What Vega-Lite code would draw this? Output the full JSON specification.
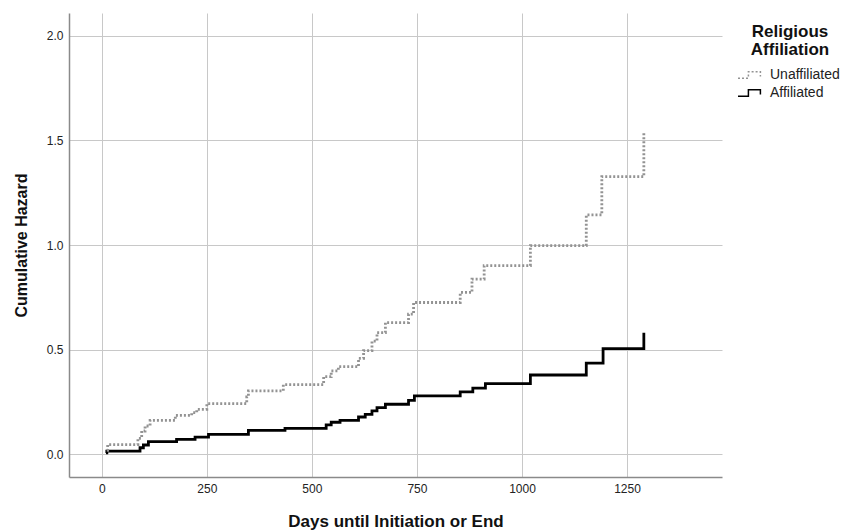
{
  "$schema": "https://vega.github.io/schema/vega-lite/v6.json",
  "width": 653,
  "height": 464,
  "autosize": {"type": "none"},
  "padding": {"left": 69, "top": 13, "right": 121, "bottom": 55},
  "background": "white",
  "config": {
    "font": "Liberation Sans",
    "view": {"stroke": null},
    "axis": {
      "gridColor": "#c8c8c8",
      "gridWidth": 1,
      "domainColor": "#8a8a8a",
      "domainWidth": 1.5,
      "ticks": false,
      "tickSize": 0,
      "labelFont": "Liberation Sans",
      "labelFontSize": 12,
      "labelColor": "#222222",
      "labelPadding": 6,
      "titleFont": "Liberation Sans",
      "titleFontWeight": "bold",
      "titleColor": "#111111",
      "titlePadding": 17
    }
  },
  "data": {
    "values": [
      {"group": "Affiliated", "day": 10, "hazard": 0.005},
      {"group": "Affiliated", "day": 12, "hazard": 0.014},
      {"group": "Affiliated", "day": 91, "hazard": 0.03},
      {"group": "Affiliated", "day": 99, "hazard": 0.043},
      {"group": "Affiliated", "day": 111, "hazard": 0.059},
      {"group": "Affiliated", "day": 178, "hazard": 0.07},
      {"group": "Affiliated", "day": 222, "hazard": 0.081},
      {"group": "Affiliated", "day": 254, "hazard": 0.094},
      {"group": "Affiliated", "day": 349, "hazard": 0.113},
      {"group": "Affiliated", "day": 436, "hazard": 0.123},
      {"group": "Affiliated", "day": 534, "hazard": 0.139},
      {"group": "Affiliated", "day": 546, "hazard": 0.152},
      {"group": "Affiliated", "day": 567, "hazard": 0.161},
      {"group": "Affiliated", "day": 611, "hazard": 0.177},
      {"group": "Affiliated", "day": 627, "hazard": 0.19},
      {"group": "Affiliated", "day": 643, "hazard": 0.206},
      {"group": "Affiliated", "day": 655, "hazard": 0.222},
      {"group": "Affiliated", "day": 675, "hazard": 0.238},
      {"group": "Affiliated", "day": 730, "hazard": 0.257},
      {"group": "Affiliated", "day": 744, "hazard": 0.278},
      {"group": "Affiliated", "day": 853, "hazard": 0.297},
      {"group": "Affiliated", "day": 883, "hazard": 0.315},
      {"group": "Affiliated", "day": 913, "hazard": 0.337},
      {"group": "Affiliated", "day": 1020, "hazard": 0.378},
      {"group": "Affiliated", "day": 1153, "hazard": 0.435},
      {"group": "Affiliated", "day": 1193, "hazard": 0.504},
      {"group": "Affiliated", "day": 1290, "hazard": 0.58},
      {"group": "Unaffiliated", "day": 12, "hazard": 0.018},
      {"group": "Unaffiliated", "day": 14, "hazard": 0.045},
      {"group": "Unaffiliated", "day": 86, "hazard": 0.075},
      {"group": "Unaffiliated", "day": 95, "hazard": 0.11},
      {"group": "Unaffiliated", "day": 103, "hazard": 0.134},
      {"group": "Unaffiliated", "day": 115, "hazard": 0.161},
      {"group": "Unaffiliated", "day": 175, "hazard": 0.185},
      {"group": "Unaffiliated", "day": 214, "hazard": 0.198},
      {"group": "Unaffiliated", "day": 226, "hazard": 0.214},
      {"group": "Unaffiliated", "day": 250, "hazard": 0.241},
      {"group": "Unaffiliated", "day": 345, "hazard": 0.273},
      {"group": "Unaffiliated", "day": 349, "hazard": 0.302},
      {"group": "Unaffiliated", "day": 432, "hazard": 0.332},
      {"group": "Unaffiliated", "day": 528, "hazard": 0.37},
      {"group": "Unaffiliated", "day": 546, "hazard": 0.398},
      {"group": "Unaffiliated", "day": 563, "hazard": 0.418},
      {"group": "Unaffiliated", "day": 611, "hazard": 0.458},
      {"group": "Unaffiliated", "day": 623, "hazard": 0.495},
      {"group": "Unaffiliated", "day": 643, "hazard": 0.54},
      {"group": "Unaffiliated", "day": 655, "hazard": 0.581},
      {"group": "Unaffiliated", "day": 675, "hazard": 0.629},
      {"group": "Unaffiliated", "day": 730, "hazard": 0.669},
      {"group": "Unaffiliated", "day": 742, "hazard": 0.725},
      {"group": "Unaffiliated", "day": 853, "hazard": 0.773},
      {"group": "Unaffiliated", "day": 881, "hazard": 0.837},
      {"group": "Unaffiliated", "day": 910, "hazard": 0.901},
      {"group": "Unaffiliated", "day": 1020, "hazard": 0.997},
      {"group": "Unaffiliated", "day": 1153, "hazard": 1.144},
      {"group": "Unaffiliated", "day": 1190, "hazard": 1.327},
      {"group": "Unaffiliated", "day": 1290, "hazard": 1.535}
    ]
  },
  "mark": {"type": "line", "interpolate": "step-after", "strokeWidth": 2.8, "strokeCap": "butt"},
  "encoding": {
    "x": {
      "field": "day",
      "type": "quantitative",
      "scale": {"domain": [-78, 1476], "nice": false, "zero": false},
      "axis": {"values": [0, 250, 500, 750, 1000, 1250], "title": "Days until Initiation or End", "titleFontSize": 17, "titlePadding": 19, "format": "d"}
    },
    "y": {
      "field": "hazard",
      "type": "quantitative",
      "scale": {"domain": [-0.11, 2.11], "nice": false, "zero": false},
      "axis": {"values": [0, 0.5, 1, 1.5, 2], "format": ".1f", "title": "Cumulative Hazard", "titleFontSize": 16}
    },
    "color": {
      "field": "group",
      "type": "nominal",
      "title": ["Religious", "Affiliation"],
      "scale": {"domain": ["Unaffiliated", "Affiliated"], "range": ["#939393", "#000000"]},
      "legend": {
        "orient": "none",
        "legendX": 672,
        "legendY": 11,
        "titleFontSize": 17,
        "titleLineHeight": 18,
        "titleFontWeight": "bold",
        "titleColor": "#111111",
        "titleAnchor": "middle",
        "titleAlign": "center",
        "titlePadding": 7,
        "labelFontSize": 14,
        "labelColor": "#222222",
        "labelOffset": 11,
        "symbolType": "M-1.5,0.4H-0.2V-0.4H1.3V0.2",
        "symbolSize": 256,
        "symbolStrokeWidth": 1.5,
        "symbolFillColor": "transparent",
        "rowPadding": 2
      }
    },
    "strokeDash": {
      "field": "group",
      "type": "nominal",
      "title": ["Religious", "Affiliation"],
      "scale": {"domain": ["Unaffiliated", "Affiliated"], "range": [[2, 2], [1, 0]]}
    }
  }
}
